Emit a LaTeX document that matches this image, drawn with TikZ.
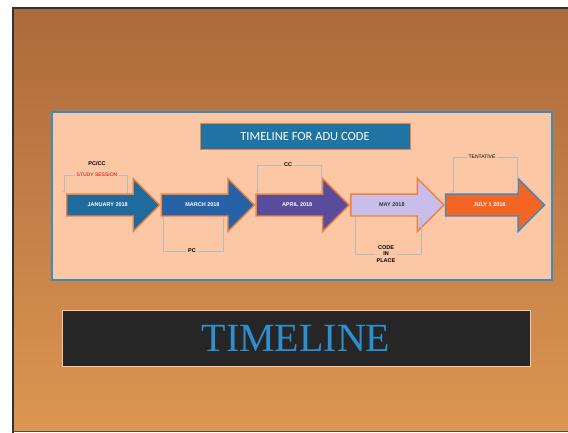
\documentclass[tikz,border=0pt]{standalone}
\usepackage{fontspec}
\setmainfont{Liberation Serif}
\setsansfont{Liberation Sans}
\newfontfamily\titlefont{Carlito}
\usetikzlibrary{positioning,shapes.arrows,calc,arrows.meta}
\definecolor{slidetop}{HTML}{AC6A3C}
\definecolor{slidebot}{HTML}{DC9652}
\definecolor{panelfill}{HTML}{FCC7A5}
\definecolor{panelline}{HTML}{3C8CC2}
\definecolor{titleblue}{HTML}{1F74A4}
\definecolor{janblue}{HTML}{1E6C9E}
\definecolor{marblue}{HTML}{2562A8}
\definecolor{aprpurple}{HTML}{5A4C9C}
\definecolor{maylav}{HTML}{C9BDEB}
\definecolor{julorange}{HTML}{F36523}
\definecolor{edgeorange}{HTML}{F08040}
\definecolor{bigtext}{HTML}{2E8FCE}
\tikzset{
  month/.style={single arrow,
    single arrow head extend=15.5pt,
    minimum height=93pt,
    inner xsep=2pt, inner ysep=7.5pt,
    text height=4.5pt, text depth=1pt,
    font=\sffamily\bfseries\fontsize{5.5}{6}\selectfont,
    text=white, draw=edgeorange, line width=1.4pt},
  note/.style={font=\sffamily\bfseries\fontsize{5.5}{6.5}\selectfont,
    align=center, inner sep=1.5pt},
  bracket/.style={gray!55, line width=0.4pt},
  tick/.style={-{Stealth[length=2pt,width=2pt]}}
}
\begin{document}
\begin{tikzpicture}[x=1pt,y=-1pt]
  \useasboundingbox (0,0) rectangle (568,433);
  \fill[white] (0,0) rectangle (568,433);
  % slide
  \shade[top color=slidetop, bottom color=slidebot] (13,8) rectangle (568,431);
  \draw[black!80, line width=1.2pt] (13,433) -- (13,8) -- (568,8);
  \draw[black!70, line width=1pt] (13,431) -- (568,431);
  % panel and title
  \node[draw=panelline, line width=1.6pt, fill=panelfill,
        minimum width=500pt, minimum height=168pt] (panel) at (302,196) {};
  \node[fill=titleblue, draw=edgeorange, line width=0.6pt,
        minimum width=210pt, minimum height=26pt, text=white,
        font=\titlefont\fontsize{12.5}{13}\selectfont] (title) at (305,136) {TIMELINE FOR ADU CODE};
  % months
  \node[month, fill=janblue, anchor=west] (jan) at (66,205) {JANUARY 2018};
  \node[month, fill=marblue, right=0pt of jan] (mar) {MARCH 2018};
  \node[month, fill=aprpurple, right=0pt of mar] (apr) {APRIL 2018};
  \node[month, fill=maylav, text=black!80, right=0pt of apr] (may) {MAY 2018};
  \node[month, fill=julorange, draw=panelline, minimum height=99pt, right=0pt of may] (jul) {JULY 1 2018};
  % notes
  \node[note] (pccc) at (97,164) {PC/CC};
  \node[note, text=red!85!black, font=\sffamily\fontsize{5}{6}\selectfont] (study) at (97,175) {STUDY SESSION};
  \node[note] (cc) at (288,165) {CC};
  \node[note] (pc) at (192,251) {PC};
  \node[note] (inplace) at (386,254) {CODE\\IN\\PLACE};
  \node[note, font=\sffamily\fontsize{5}{6}\selectfont] (tent) at (482,157) {TENTATIVE};
  % brackets
  \draw[bracket, tick] (study.west) -| ($(jan.west)+(-2,-12)$);
  \draw[bracket] (study.east) -| ($(jan.west)+(61,-12)$);
  \draw[bracket, tick] (cc.west) -| ($(apr.west)+(2,-12)$);
  \draw[bracket, tick] (cc.east) -| ($(apr.west)+(66,-12)$);
  \draw[bracket, tick] (pc.west) -| ($(mar.west)+(2,12)$);
  \draw[bracket] (pc.east) -| ($(mar.west)+(62,12)$);
  \draw[bracket] (inplace.west) -| ($(may.west)+(5,12)$);
  \draw[bracket] (inplace.east) -| ($(may.west)+(71,12)$);
  \draw[bracket, tick] (tent.west) -| ($(jul.west)+(8,-12)$);
  \draw[bracket, tick] (tent.east) -| ($(jul.west)+(72,-12)$);
  % big title
  \node[fill=black!85, draw=panelfill, line width=1pt,
        minimum width=468pt, minimum height=56pt, text=bigtext,
        font=\fontsize{40}{40}\selectfont] (big) at (296,338) {TIMELINE};
\end{tikzpicture}
\end{document}
